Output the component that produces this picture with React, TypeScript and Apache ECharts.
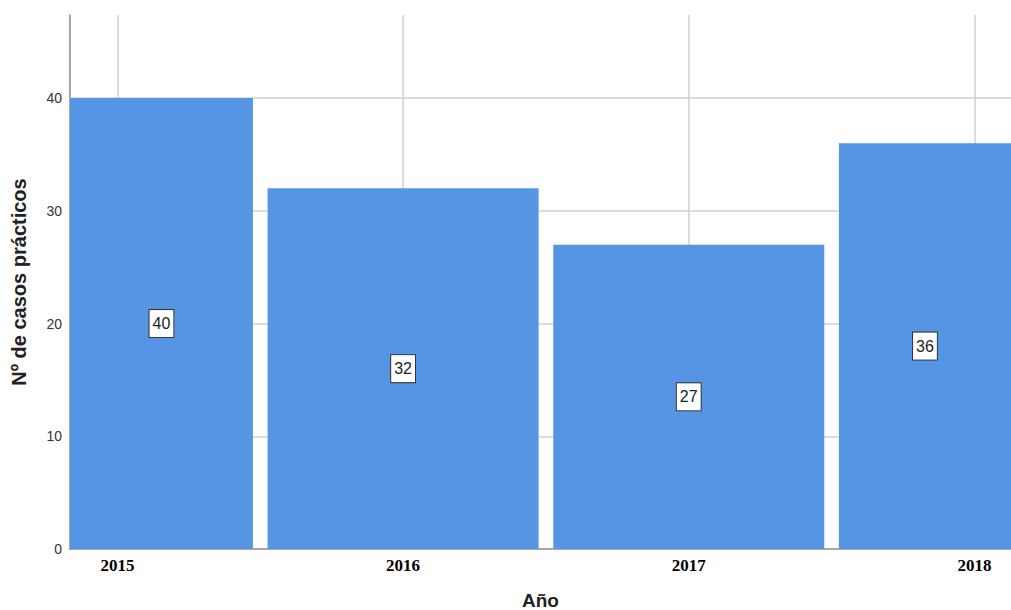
import React, { useEffect, useRef } from "react";
import * as echarts from "echarts";

const years = [2015, 2016, 2017, 2018];
const casos = [40, 32, 27, 36];
const yTicks = [10, 20, 30, 40];

export default function App() {
  const ref = useRef<HTMLDivElement>(null);
  useEffect(() => {
    const chart = echarts.init(ref.current!, null, { renderer: "svg" });
    const gridColor = "#d0d0d0";
    const barFraction = 271 / 285.67;
    chart.setOption({
      animation: false,
      grid: { left: 70, right: 0, top: 15, bottom: 61, containLabel: false, outerBoundsMode: "none" },
      xAxis: {
        type: "value",
        min: 2014.834,
        max: 2018.128,
        name: "Año",
        nameLocation: "middle",
        nameGap: 42,
        nameTextStyle: { fontFamily: "Liberation Sans", fontWeight: "bold", fontSize: 19, color: "#222" },
        axisLine: { show: true, lineStyle: { color: "#8a8a8a", width: 1.5 } },
        axisTick: { show: false },
        splitLine: { show: false },
        axisLabel: {
          customValues: years,
          margin: 8,
          fontFamily: "Liberation Serif",
          fontWeight: "bold",
          fontSize: 17,
          color: "#000",
          formatter: (v: number) => String(Math.round(v)),
        },
      },
      yAxis: {
        type: "value",
        min: 0,
        max: 47.37,
        interval: 10,
        name: "Nº de casos prácticos",
        nameLocation: "middle",
        nameGap: 41,
        nameTextStyle: { fontFamily: "Liberation Sans", fontWeight: "bold", fontSize: 20, color: "#222" },
        axisLine: { show: true, lineStyle: { color: "#8a8a8a", width: 1.5 } },
        axisTick: { show: false },
        splitLine: { show: false },
        axisLabel: {
          margin: 8,
          fontFamily: "Liberation Sans",
          fontSize: 14,
          color: "#333",
          formatter: (v: number) => (Math.abs(v % 10) < 1e-6 ? String(v) : ""),
        },
      },
      series: [
        {
          type: "line",
          data: [],
          silent: true,
          z: 1,
          markLine: {
            z: 1,
            silent: true,
            symbol: "none",
            label: { show: false },
            lineStyle: { color: gridColor, width: 1.5, type: "solid" },
            data: [
              ...yTicks.map((v) => ({ yAxis: v })),
              ...years.map((v) => ({ xAxis: v })),
            ],
          },
        },
        {
          type: "custom",
          z: 3,
          clip: true,
          data: years.map((y, i) => [y, casos[i]]),
          encode: { x: 0, y: 1 },
          renderItem: (params: any, api: any) => {
            const x = api.value(0);
            const v = api.value(1);
            const p0 = api.coord([x, 0]);
            const p1 = api.coord([x, v]);
            const w = api.size([1, 0])[0] * barFraction;
            const rect = echarts.graphic.clipRectByRect(
              { x: p0[0] - w / 2, y: p1[1], width: w, height: p0[1] - p1[1] },
              params.coordSys
            );
            if (!rect) return null;
            return {
              type: "group",
              children: [
                {
                  type: "rect",
                  shape: rect,
                  style: { fill: "#5595e4" },
                },
                {
                  type: "text",
                  x: rect.x + rect.width / 2,
                  y: rect.y + rect.height / 2,
                  z2: 10,
                  style: {
                    text: String(v),
                    align: "center",
                    verticalAlign: "middle",
                    fill: "#222",
                    font: "16px 'Liberation Sans'",
                    backgroundColor: "#ffffff",
                    borderColor: "#333",
                    borderWidth: 1,
                    padding: [5, 3, 4, 3],
                    lineHeight: 18,
                  },
                },
              ],
            };
          },
        },
      ],
    });
    return () => chart.dispose();
  }, []);
  return (
    <div
      ref={ref}
      style={{ position: "fixed", left: 0, top: 0, width: 1011, height: 610, background: "#fff" }}
    />
  );
}
